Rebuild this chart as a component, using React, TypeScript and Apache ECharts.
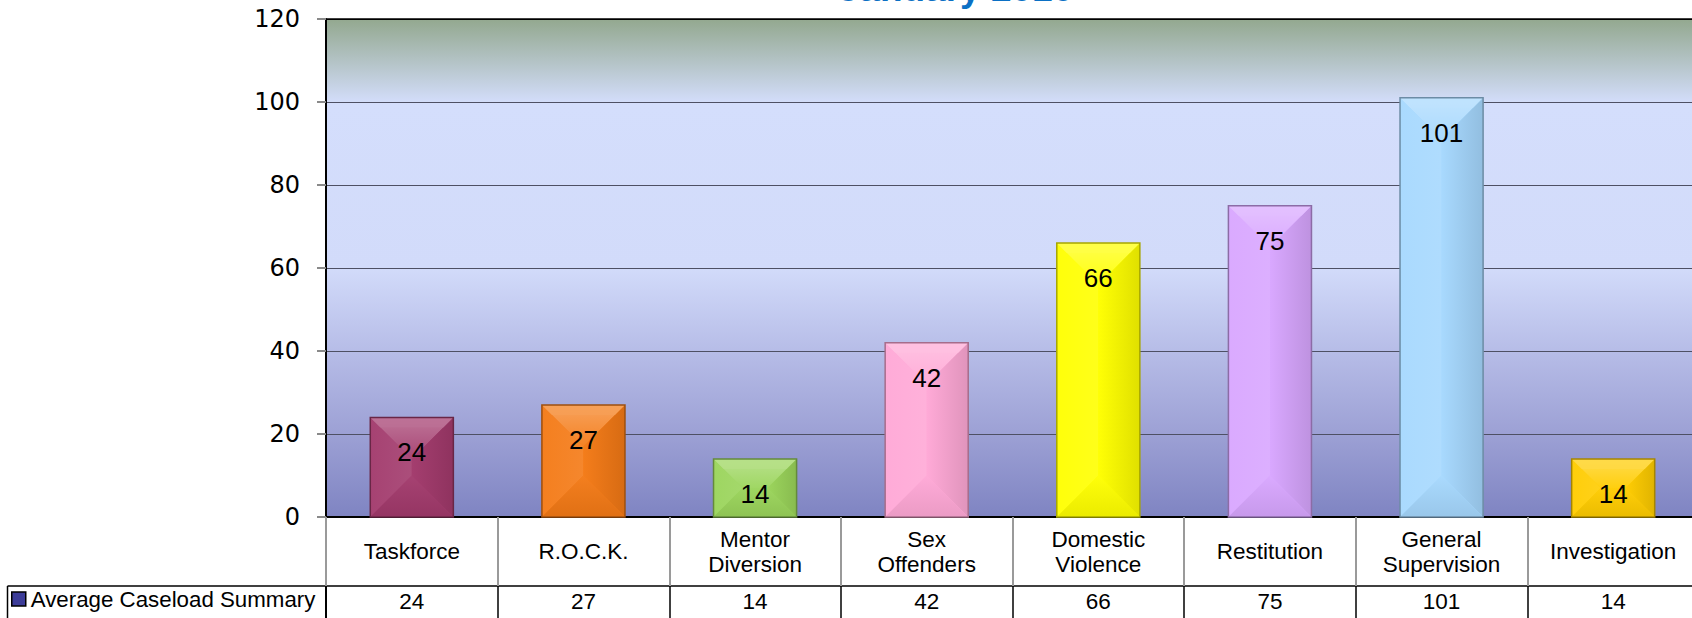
import React, { useEffect, useRef } from "react";
import * as echarts from "echarts";

// ---------- data ----------
const TITLE = "January 2010";
const SERIES_NAME = "Average Caseload Summary";
const categories = [
  "Taskforce",
  "R.O.C.K.",
  "Mentor\nDiversion",
  "Sex\nOffenders",
  "Domestic\nViolence",
  "Restitution",
  "General\nSupervision",
  "Investigation",
];
const values = [24, 27, 14, 42, 66, 75, 101, 14];
const Y_MIN = 0;
const Y_MAX = 120;
const Y_STEP = 20;
const barColors = [
  "#a23a6c",
  "#f47a16",
  "#9ad45a",
  "#ffa8d6",
  "#ffff00",
  "#d8a6ff",
  "#a6d8fe",
  "#ffcc00",
];

// ---------- layout / style ----------
const W = 1692;
const H = 618;
const GRID_LEFT = 326;
const GRID_TOP = 19;
const GRID_W = 1373;
const GRID_H = 498;
const HEADER_H = 69;
const BAR_RATIO = 0.484;
const SANS = "'Liberation Sans', Arial, sans-serif";

function mix(hex: string, t: number): string {
  const n = parseInt(hex.slice(1), 16);
  let r = (n >> 16) & 255,
    g = (n >> 8) & 255,
    b = n & 255;
  const tgt = t >= 0 ? 255 : 0;
  const k = Math.abs(t);
  r = Math.round(r + (tgt - r) * k);
  g = Math.round(g + (tgt - g) * k);
  b = Math.round(b + (tgt - b) * k);
  return "#" + ((1 << 24) | (r << 16) | (g << 8) | b).toString(16).slice(1);
}

function lg(x: number, y: number, x2: number, y2: number, a: string, b: string) {
  return {
    type: "linear",
    x,
    y,
    x2,
    y2,
    colorStops: [
      { offset: 0, color: a },
      { offset: 1, color: b },
    ],
  };
}

export default function App() {
  const ref = useRef<HTMLDivElement>(null);

  useEffect(() => {
    document.body.style.margin = "0";
    if (!ref.current) return;
    const chart = echarts.init(ref.current, null, { renderer: "svg" });

    const splitColors: string[] = [];
    for (let v = Y_MIN; v <= Y_MAX; v += Y_STEP) splitColors.push(v === Y_MAX ? "#000000" : "#4e5064");

    const option: any = {
      animation: false,
      backgroundColor: "#ffffff",
      textStyle: { fontFamily: SANS },
      grid: {
        left: GRID_LEFT,
        top: GRID_TOP,
        width: GRID_W,
        height: GRID_H,
        show: true,
        borderWidth: 0,
        outerBoundsMode: "none",
        backgroundColor: new echarts.graphic.LinearGradient(0, 0, 0, 1, [
          { offset: 0, color: "#93a88f" },
          { offset: 0.17, color: "#d4defc" },
          { offset: 0.5, color: "#d2dbfa" },
          { offset: 0.67, color: "#b6bce7" },
          { offset: 0.83, color: "#9da1d5" },
          { offset: 1, color: "#7f84c2" },
        ]),
      },
      legend: {
        left: 11,
        top: 588,
        padding: 0,
        itemWidth: 14,
        itemHeight: 14,
        selectedMode: false,
        textStyle: { fontSize: 22.3, color: "#000", fontFamily: SANS },
        data: [
          {
            name: SERIES_NAME,
            icon: "rect",
            itemStyle: { color: "#3c3c98", borderColor: "#000", borderWidth: 1.5 },
          },
        ],
      },
      xAxis: [
        {
          type: "category",
          data: categories,
          position: "bottom",
          axisLine: { show: true, lineStyle: { color: "#000", width: 2 } },
          axisTick: {
            show: true,
            interval: 0,
            length: HEADER_H,
            lineStyle: { color: "#9a9a9a", width: 2 },
          },
          axisLabel: {
            interval: 0,
            fontSize: 22.5,
            lineHeight: 25,
            color: "#000",
            fontFamily: SANS,
            verticalAlign: "middle",
            margin: HEADER_H / 2,
          },
          splitLine: { show: false },
        },
        {
          type: "category",
          data: categories,
          position: "bottom",
          offset: HEADER_H,
          axisLine: { show: true, lineStyle: { color: "#000", width: 1.5 } },
          axisTick: {
            show: true,
            interval: 0,
            length: 40,
            lineStyle: { color: "#000", width: 1.5 },
          },
          axisLabel: {
            interval: 0,
            fontSize: 22.5,
            color: "#000",
            fontFamily: SANS,
            verticalAlign: "middle",
            margin: 15,
            formatter: (_v: string, idx: number) => String(values[idx]),
          },
          splitLine: { show: false },
        },
      ],
      yAxis: {
        type: "value",
        min: Y_MIN,
        max: Y_MAX,
        interval: Y_STEP,
        axisLine: { show: true, lineStyle: { color: "#000", width: 2 } },
        axisTick: { show: true, length: 9, lineStyle: { color: "#8a8a8a", width: 2 } },
        axisLabel: {
          fontSize: 24,
          color: "#000",
          fontFamily: "'DejaVu Sans', sans-serif",
          margin: 26,
        },
        splitLine: { show: true, lineStyle: { color: splitColors, width: 1.2 } },
      },
      series: [
        {
          name: SERIES_NAME,
          type: "custom",
          xAxisIndex: 0,
          yAxisIndex: 0,
          encode: { x: 0, y: 1 },
          data: values.map((v, i) => [i, v]),
          renderItem: (params: any, api: any) => {
            const i = params.dataIndex;
            const v = api.value(1);
            const pTop = api.coord([api.value(0), v]);
            const pBase = api.coord([api.value(0), 0]);
            const bw = api.size([1, 0])[0] * BAR_RATIO;
            const x0 = pTop[0] - bw / 2;
            const x1 = pTop[0] + bw / 2;
            const y0 = pTop[1];
            const y1 = pBase[1];
            const w = x1 - x0;
            const h = y1 - y0;
            const m = Math.min(w, h) / 2;
            const c = barColors[i];
            const bev = Math.min(10, m);
            return {
              type: "group",
              children: [
                {
                  type: "rect",
                  shape: { x: x0, y: y0, width: w, height: h },
                  style: { fill: c },
                },
                {
                  type: "polygon",
                  shape: { points: [[x0, y0], [x1, y0], [x1 - m, y0 + m], [x0 + m, y0 + m]] },
                  style: { fill: lg(0, 0, 0, 1, mix(c, 0.3), mix(c, 0.06)) },
                },
                {
                  type: "polygon",
                  shape: { points: [[x0, y0], [x0 + m, y0 + m], [x0 + m, y1 - m], [x0, y1]] },
                  style: { fill: lg(0, 0, 1, 0, mix(c, 0.04), mix(c, 0.1)) },
                },
                {
                  type: "polygon",
                  shape: { points: [[x1, y0], [x1 - m, y0 + m], [x1 - m, y1 - m], [x1, y1]] },
                  style: { fill: lg(1, 0, 0, 0, mix(c, -0.12), mix(c, 0.02)) },
                },
                {
                  type: "polygon",
                  shape: { points: [[x0, y1], [x1, y1], [x1 - m, y1 - m], [x0 + m, y1 - m]] },
                  style: { fill: lg(0, 1, 0, 0, mix(c, -0.08), mix(c, 0.04)) },
                },
                {
                  type: "polygon",
                  shape: { points: [[x0, y0], [x1, y0], [x1 - bev, y0 + bev], [x0 + bev, y0 + bev]] },
                  style: { fill: mix(c, 0.28), opacity: 0.7 },
                },
                {
                  type: "rect",
                  shape: { x: x0, y: y0, width: w, height: h },
                  style: { fill: "none", stroke: mix(c, -0.35), lineWidth: 1.5 },
                },
                {
                  type: "text",
                  style: {
                    text: String(v),
                    x: pTop[0],
                    y: y0 + 35,
                    align: "center",
                    verticalAlign: "middle",
                    fontSize: 26,
                    fontFamily: SANS,
                    fill: "#000",
                  },
                },
              ],
            };
          },
        },
      ],
      graphic: [
        {
          type: "text",
          x: 956,
          y: -11.5,
          style: {
            text: TITLE,
            align: "center",
            verticalAlign: "middle",
            fontSize: 37,
            fontWeight: "bold",
            fontFamily: SANS,
            fill: "#0b70c4",
          },
        },
        {
          type: "line",
          shape: { x1: GRID_LEFT, y1: GRID_TOP + GRID_H, x2: GRID_LEFT, y2: H },
          style: { stroke: "#000", lineWidth: 2 },
        },
        {
          type: "line",
          shape: { x1: 7.5, y1: GRID_TOP + GRID_H + HEADER_H, x2: GRID_LEFT, y2: GRID_TOP + GRID_H + HEADER_H },
          style: { stroke: "#000", lineWidth: 1.5 },
        },
        {
          type: "line",
          shape: { x1: 7.5, y1: GRID_TOP + GRID_H + HEADER_H, x2: 7.5, y2: H },
          style: { stroke: "#000", lineWidth: 1.5 },
        },
        {
          type: "line",
          shape: { x1: GRID_LEFT, y1: GRID_TOP, x2: GRID_LEFT + GRID_W, y2: GRID_TOP },
          style: { stroke: "#000", lineWidth: 1.5 },
        },
      ],
    };

    chart.setOption(option);
    return () => chart.dispose();
  }, []);

  return <div ref={ref} style={{ width: W, height: H }} />;
}
